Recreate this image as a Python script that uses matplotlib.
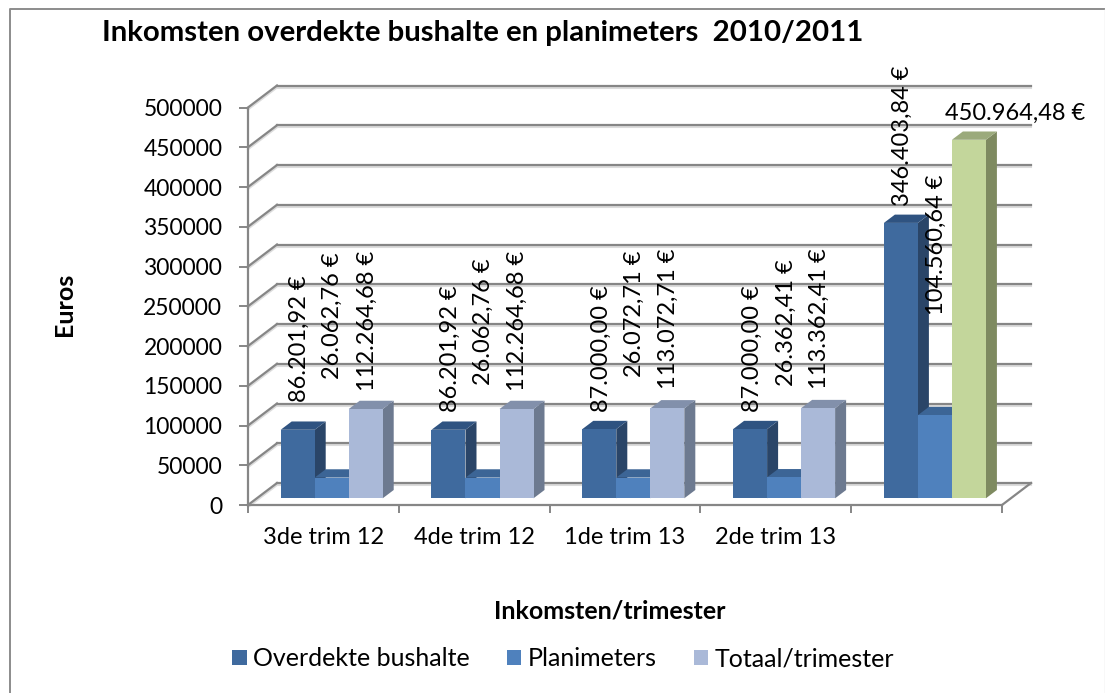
import matplotlib
matplotlib.use("Agg")
import matplotlib.pyplot as plt
from matplotlib.lines import Line2D

categories = ['3de trim 12', '4de trim 12', '1de trim 13', '2de trim 13', '']
bushalte = [86201.92, 86201.92, 87000.00, 87000.00, 346403.84]
planimeters = [26062.76, 26062.76, 26072.71, 26362.41, 104560.64]
totaal = [112264.68, 112264.68, 113072.71, 113362.41, 450964.48]
series_names = ['Overdekte bushalte', 'Planimeters', 'Totaal/trimester']
yticks = list(range(0, 500001, 50000))

bushalte_labels = ['86.201,92 €', '86.201,92 €', '87.000,00 €', '87.000,00 €', '346.403,84 €']
planimeters_labels = ['26.062,76 €', '26.062,76 €', '26.072,71 €', '26.362,41 €', '104.560,64 €']
totaal_labels = ['112.264,68 €', '112.264,68 €', '113.072,71 €', '113.362,41 €', '450.964,48 €']

# where the labels were dragged to in the original, pixels (x centre, bottom)
bushalte_pos = [(299, 402), (450, 412), (601, 412), (752, 412), (902, 206)]
planimeters_pos = [(332, 379), (483, 385), (634, 377), (786, 386), (936, 315)]
totaal_pos = [(367, 391), (517, 391), (668, 389), (819, 389)]

GRID = '#868686'
SHADOW = '#dcdcdc'
FONT = 'Lato'
W, H = 1105, 693

plt.rcParams['font.family'] = [FONT, 'DejaVu Sans']

# colours: front, top, side
bar_colors = [
    [('#3f6a9e', '#2f5381', '#2a4568')] * 5,
    [('#4f81bd', '#3c6596', '#3c6596')] * 5,
    [('#aab9d8', '#8290ab', '#6d7a90')] * 4 + [('#c3d69b', '#9baa7c', '#7e8a60')],
]

fig = plt.figure(figsize=(W / 100, H / 100), dpi=100)
ax = fig.add_axes([248 / W, 1 - 505 / H, 754 / W, 397.5 / H])
ax.set_xlim(0, 5)
ax.set_ylim(0, 500000)

# data units per pixel
DX = 5 / 754
DY = 500000 / 397.5


def fx(px):
    return px / W


def fy(py):
    return 1 - py / H


# walls
back_x, back_y = 29 * DX, 22 * DY
for tick in yticks:
    ax.plot([back_x, 5 + back_x], [tick + back_y - 2 * DY] * 2, color=SHADOW, lw=1.5, clip_on=False, zorder=1)
    ax.plot([0, back_x], [tick - 2 * DY, tick + back_y - 2 * DY], color=SHADOW, lw=1.5, clip_on=False, zorder=1)
    ax.plot([back_x, 5 + back_x], [tick + back_y] * 2, color=GRID, lw=1.6, clip_on=False, zorder=2)
    ax.plot([0, back_x], [tick, tick + back_y], color=GRID, lw=1.6, clip_on=False, zorder=2)
ax.plot([5, 5 + back_x], [0, back_y], color=GRID, lw=1.6, clip_on=False, zorder=2)

# bars
bar_w = 0.2255
start = (1 - 3 * bar_w) / 2 + 8.3 * DX
floor = 6.7 * DY
side_x, side_y = 11 * DX, 8.3 * DY
legend_handles = []
z = 3
for s, values in enumerate([bushalte, planimeters, totaal]):
    xs = [i + start + s * bar_w for i in range(len(values))]
    bars = ax.bar(xs, values, bar_w, bottom=floor, align='edge',
                  color=[c[0] for c in bar_colors[s]], clip_on=False, zorder=z + 2, label=series_names[s])
    legend_handles.append(bars)
    for x, v, c in zip(xs, values, bar_colors[s]):
        top = v + floor
        ax.fill([x, x + bar_w, x + bar_w + side_x, x + side_x], [top, top, top + side_y, top + side_y],
                color=c[1], lw=0, clip_on=False, zorder=z + 1)
        ax.fill([x + bar_w, x + bar_w + side_x, x + bar_w + side_x, x + bar_w],
                [floor, floor + side_y, top + side_y, top],
                color=c[2], lw=0, clip_on=False, zorder=z)
    z += 3

# axes
for name in ['top', 'right']:
    ax.spines[name].set_visible(False)
for name in ['left', 'bottom']:
    ax.spines[name].set_color(GRID)
    ax.spines[name].set_linewidth(1.6)
    ax.spines[name].set_zorder(2)
ax.patch.set_visible(False)
ax.set_yticks(yticks)
ax.tick_params(axis='y', color=GRID, width=1.4, length=6.5, pad=12, labelsize=16.5, labelcolor='black')
ax.set_xticks(range(6))
ax.set_xticklabels([])
ax.set_xticks([i + 0.5 for i in range(5)], categories, minor=True)
ax.tick_params(axis='x', which='major', color=GRID, width=1.4, length=5.5)
ax.tick_params(axis='x', which='minor', length=0, pad=16, labelsize=17)

# data labels
for labels, pos in [(bushalte_labels, bushalte_pos), (planimeters_labels, planimeters_pos),
                    (totaal_labels, totaal_pos)]:
    for text, (px, py) in zip(labels, pos):
        fig.text(fx(px), fy(py), text, rotation=90, ha='center', va='bottom', fontsize=17, zorder=20)
fig.text(fx(1015), fy(113), totaal_labels[4], ha='center', va='center', fontsize=17, zorder=20)

# titles
fig.text(fx(102), fy(33), 'Inkomsten overdekte bushalte en planimeters  2010/2011', ha='left', va='center',
         fontsize=21.2, fontweight='bold')
fig.text(fx(64), fy(304), 'Euros', rotation=90, ha='center', va='center', fontsize=18, fontweight='bold')
fig.text(fx(610), fy(611), 'Inkomsten/trimester', ha='center', va='center', fontsize=18, fontweight='bold')

ax.legend(handles=legend_handles, ncol=3, loc='center', frameon=False, fontsize=18,
          bbox_to_anchor=((563 - 248) / 754, (505 - 659) / 397.5), handlelength=0.58, handleheight=0.58,
          handletextpad=0.24, columnspacing=1.5, borderpad=0, borderaxespad=0)

# chart border
fig.add_artist(Line2D([fx(10), fx(10), fx(1104)], [0, fy(8.5), fy(8.5)], color='#8c8c8c', lw=1.4))
fig.add_artist(Line2D([fx(1104.5), fx(1104.5)], [fy(8.5), 0], color='#dddddd', lw=1.0))

fig.savefig('out.png', dpi=100)
